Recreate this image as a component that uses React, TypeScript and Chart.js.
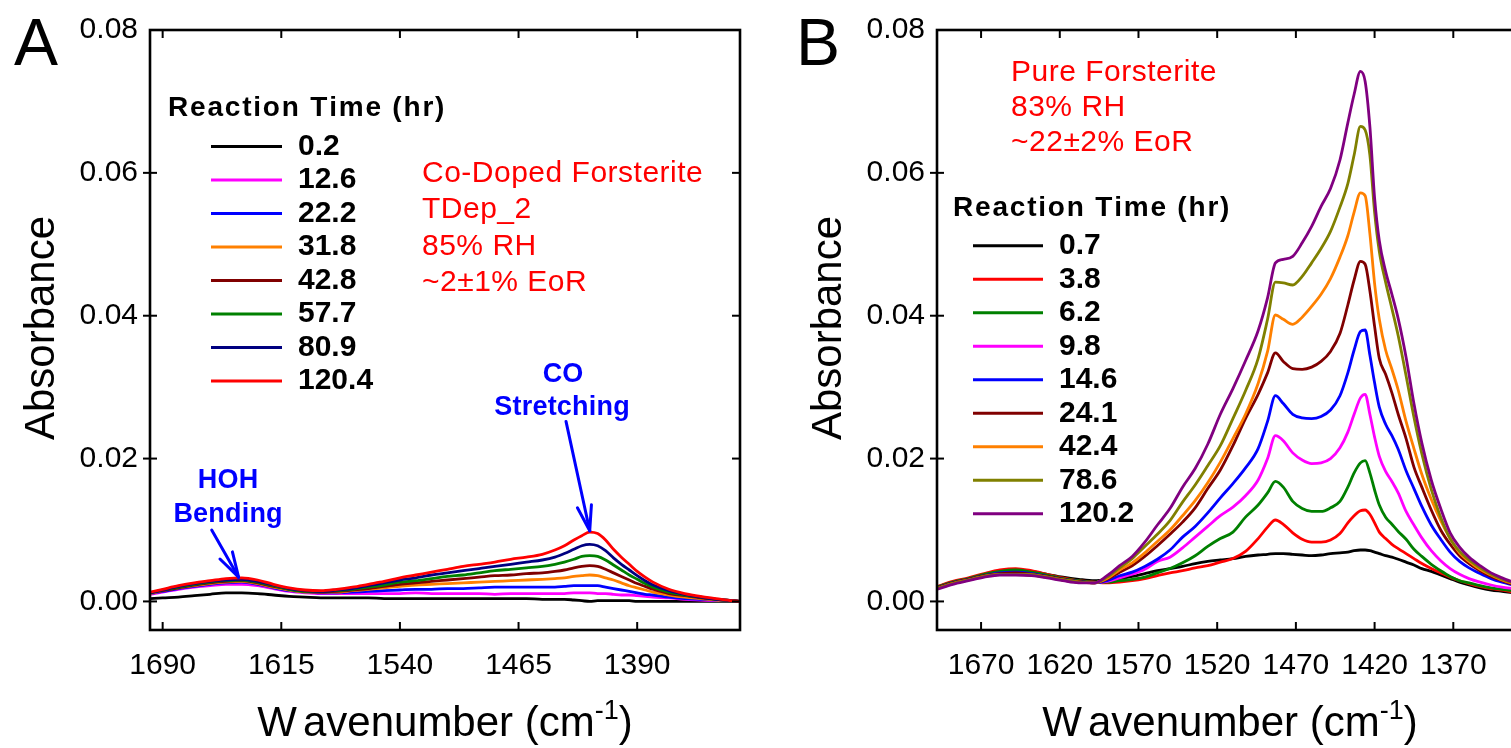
import React, { useEffect, useRef } from "react";
import { Chart, registerables } from "chart.js";

Chart.register(...registerables);

const FONT = "'Liberation Sans', Arial, Helvetica, sans-serif";

// ---------------- Panel A : Co-doped forsterite ----------------
const A_WAVENUMBERS = [
  1698, 1690, 1680, 1670, 1660, 1650, 1640, 1630, 1620, 1610,
  1600, 1590, 1580, 1570, 1560, 1550, 1540, 1530, 1520, 1510,
  1500, 1490, 1480, 1470, 1460, 1450, 1442, 1436, 1430, 1425,
  1420, 1415, 1410, 1405, 1400, 1395, 1390, 1385, 1380, 1370,
  1360, 1350, 1340, 1330, 1325,
];
const A_TIMES = ["0.2", "12.6", "22.2", "31.8", "42.8", "57.7", "80.9", "120.4"];
const A_COLORS = ["#000000", "#FF00FF", "#0000FF", "#FF8000", "#800000", "#008000", "#000080", "#FF0000"];

const A_T0_2 = [
  0.0004, 0.0005, 0.0006, 0.0008, 0.0010, 0.0012, 0.0012, 0.0011, 0.0009, 0.0007,
  0.0006, 0.0005, 0.0005, 0.0005, 0.0005, 0.0004, 0.0004, 0.0004, 0.0004, 0.0004,
  0.0004, 0.0004, 0.0004, 0.0004, 0.0004, 0.0003, 0.0003, 0.0003, 0.0002, 0.0001,
  0.0000, 0.0001, 0.0001, 0.0001, 0.0001, 0.0001, 0.0000, 0.0000, 0.0000, 0.0000,
  0.0000, 0.0000, 0.0000, 0.0000, 0.0000,
];
const A_T12_6 = [
  0.0010, 0.0013, 0.0017, 0.0020, 0.0022, 0.0024, 0.0024, 0.0022, 0.0018, 0.0014,
  0.0012, 0.0011, 0.0011, 0.0011, 0.0011, 0.0011, 0.0011, 0.0012, 0.0011, 0.0011,
  0.0011, 0.0011, 0.0010, 0.0011, 0.0011, 0.0011, 0.0011, 0.0011, 0.0012, 0.0012,
  0.0012, 0.0011, 0.0011, 0.0010, 0.0009, 0.0009, 0.0008, 0.0007, 0.0006, 0.0005,
  0.0003, 0.0002, 0.0001, 0.0001, 0.0000,
];
const A_T22_2 = [
  0.0011, 0.0014, 0.0018, 0.0021, 0.0024, 0.0026, 0.0027, 0.0024, 0.0019, 0.0015,
  0.0013, 0.0012, 0.0012, 0.0013, 0.0014, 0.0015, 0.0016, 0.0017, 0.0017, 0.0018,
  0.0018, 0.0019, 0.0020, 0.0020, 0.0020, 0.0020, 0.0020, 0.0021, 0.0022, 0.0022,
  0.0022, 0.0022, 0.0020, 0.0018, 0.0016, 0.0014, 0.0012, 0.0010, 0.0009, 0.0006,
  0.0004, 0.0003, 0.0002, 0.0001, 0.0000,
];
const A_T31_8 = [
  0.0011, 0.0015, 0.0019, 0.0022, 0.0025, 0.0027, 0.0028, 0.0025, 0.0020, 0.0016,
  0.0013, 0.0013, 0.0013, 0.0015, 0.0017, 0.0019, 0.0021, 0.0023, 0.0024, 0.0025,
  0.0026, 0.0027, 0.0028, 0.0029, 0.0030, 0.0031, 0.0032, 0.0033, 0.0035, 0.0036,
  0.0037, 0.0036, 0.0033, 0.0030, 0.0026, 0.0022, 0.0019, 0.0016, 0.0013, 0.0009,
  0.0006, 0.0004, 0.0002, 0.0001, 0.0000,
];
const A_T42_8 = [
  0.0012, 0.0015, 0.0019, 0.0023, 0.0026, 0.0028, 0.0029, 0.0026, 0.0021, 0.0017,
  0.0014, 0.0013, 0.0014, 0.0016, 0.0018, 0.0021, 0.0024, 0.0026, 0.0028, 0.0030,
  0.0032, 0.0034, 0.0036, 0.0037, 0.0039, 0.0040, 0.0042, 0.0044, 0.0047, 0.0049,
  0.0050, 0.0049, 0.0045, 0.0040, 0.0035, 0.0030, 0.0025, 0.0021, 0.0017, 0.0011,
  0.0008, 0.0005, 0.0003, 0.0001, 0.0000,
];
const A_T57_7 = [
  0.0012, 0.0016, 0.0020, 0.0024, 0.0027, 0.0029, 0.0030, 0.0027, 0.0022, 0.0017,
  0.0014, 0.0014, 0.0015, 0.0017, 0.0020, 0.0023, 0.0027, 0.0029, 0.0032, 0.0035,
  0.0037, 0.0040, 0.0043, 0.0045, 0.0047, 0.0049, 0.0052, 0.0055, 0.0059, 0.0063,
  0.0064, 0.0063, 0.0058, 0.0051, 0.0044, 0.0037, 0.0031, 0.0025, 0.0020, 0.0013,
  0.0009, 0.0006, 0.0003, 0.0001, 0.0000,
];
const A_T80_9 = [
  0.0012, 0.0016, 0.0021, 0.0025, 0.0028, 0.0030, 0.0031, 0.0028, 0.0023, 0.0018,
  0.0015, 0.0014, 0.0016, 0.0018, 0.0022, 0.0026, 0.0030, 0.0033, 0.0037, 0.0040,
  0.0043, 0.0046, 0.0049, 0.0052, 0.0055, 0.0058, 0.0062, 0.0067, 0.0073, 0.0078,
  0.0080, 0.0078, 0.0071, 0.0061, 0.0052, 0.0044, 0.0036, 0.0029, 0.0023, 0.0015,
  0.0010, 0.0006, 0.0003, 0.0001, 0.0000,
];
const A_T120_4 = [
  0.0013, 0.0017, 0.0022, 0.0026, 0.0029, 0.0032, 0.0033, 0.0030, 0.0024, 0.0019,
  0.0016, 0.0015, 0.0017, 0.0020, 0.0024, 0.0028, 0.0033, 0.0037, 0.0041, 0.0045,
  0.0049, 0.0052, 0.0055, 0.0059, 0.0062, 0.0066, 0.0072, 0.0078, 0.0086, 0.0092,
  0.0097, 0.0095, 0.0086, 0.0073, 0.0062, 0.0052, 0.0042, 0.0034, 0.0027, 0.0017,
  0.0011, 0.0007, 0.0004, 0.0001, 0.0000,
];
const A_SERIES = [A_T0_2, A_T12_6, A_T22_2, A_T31_8, A_T42_8, A_T57_7, A_T80_9, A_T120_4];
const A_X_TICKS = [1690, 1615, 1540, 1465, 1390];
const A_NOTES = ["Co-Doped Forsterite", "TDep_2", "85% RH", "~2±1% EoR"];

// ---------------- Panel B : pure forsterite ----------------
const B_WAVENUMBERS = [
  1698, 1688, 1678, 1668, 1658, 1648, 1638, 1628, 1618, 1608,
  1598, 1590, 1582, 1574, 1566, 1558, 1550, 1542, 1534, 1526,
  1518, 1510, 1502, 1494, 1488, 1483, 1478, 1472, 1466, 1460,
  1454, 1448, 1442, 1437, 1433, 1429, 1426, 1423, 1420, 1417,
  1413, 1409, 1405, 1400, 1395, 1390, 1384, 1378, 1372, 1366,
  1360, 1353, 1346, 1339, 1332, 1325, 1318,
];
const B_TIMES = ["0.7", "3.8", "6.2", "9.8", "14.6", "24.1", "42.4", "78.6", "120.2"];
const B_COLORS = ["#000000", "#FF0000", "#008000", "#FF00FF", "#0000FF", "#800000", "#FF8000", "#808000", "#800080"];

const B_T0_7 = [
  0.0020, 0.0027, 0.0032, 0.0038, 0.0043, 0.0044, 0.0042, 0.0038, 0.0034, 0.0031,
  0.0029, 0.0030, 0.0032, 0.0035, 0.0039, 0.0043, 0.0046, 0.0049, 0.0053, 0.0056,
  0.0058, 0.0060, 0.0063, 0.0065, 0.0066, 0.0067, 0.0067, 0.0066, 0.0065, 0.0064,
  0.0065, 0.0067, 0.0068, 0.0069, 0.0071, 0.0072, 0.0072, 0.0071, 0.0069, 0.0067,
  0.0064, 0.0062, 0.0059, 0.0055, 0.0051, 0.0046, 0.0042, 0.0037, 0.0032, 0.0027,
  0.0023, 0.0019, 0.0016, 0.0014, 0.0012, 0.0011, 0.0010,
];
const B_T3_8 = [
  0.0021, 0.0028, 0.0033, 0.0039, 0.0044, 0.0046, 0.0043, 0.0038, 0.0033, 0.0029,
  0.0027, 0.0026, 0.0027, 0.0029, 0.0032, 0.0036, 0.0040, 0.0043, 0.0047, 0.0050,
  0.0055, 0.0060, 0.0070, 0.0088, 0.0104, 0.0114, 0.0108, 0.0096, 0.0087, 0.0083,
  0.0083, 0.0086, 0.0095, 0.0110, 0.0120, 0.0127, 0.0128, 0.0122, 0.0110, 0.0097,
  0.0088, 0.0080, 0.0074, 0.0067, 0.0060, 0.0053, 0.0046, 0.0040, 0.0034, 0.0029,
  0.0025, 0.0021, 0.0018, 0.0016, 0.0013, 0.0012, 0.0011,
];
const B_T6_2 = [
  0.0020, 0.0027, 0.0032, 0.0038, 0.0042, 0.0044, 0.0041, 0.0037, 0.0032, 0.0029,
  0.0027, 0.0027, 0.0029, 0.0031, 0.0034, 0.0040, 0.0046, 0.0054, 0.0064, 0.0077,
  0.0088, 0.0097, 0.0118, 0.0135, 0.0152, 0.0168, 0.0160, 0.0140, 0.0130, 0.0126,
  0.0126, 0.0131, 0.0140, 0.0160, 0.0180, 0.0194, 0.0197, 0.0180, 0.0156, 0.0135,
  0.0118, 0.0108, 0.0098, 0.0087, 0.0073, 0.0063, 0.0052, 0.0043, 0.0035, 0.0029,
  0.0026, 0.0022, 0.0019, 0.0017, 0.0015, 0.0014, 0.0013,
];
const B_T9_8 = [
  0.0018, 0.0025, 0.0030, 0.0035, 0.0039, 0.0040, 0.0038, 0.0034, 0.0030, 0.0027,
  0.0026, 0.0028, 0.0033, 0.0038, 0.0045, 0.0056, 0.0062, 0.0075, 0.0090, 0.0105,
  0.0120, 0.0132, 0.0148, 0.0170, 0.0200, 0.0232, 0.0225, 0.0208, 0.0198, 0.0193,
  0.0194, 0.0200, 0.0215, 0.0237, 0.0262, 0.0285, 0.0290, 0.0262, 0.0230, 0.0203,
  0.0182, 0.0168, 0.0152, 0.0126, 0.0107, 0.0089, 0.0071, 0.0057, 0.0046, 0.0038,
  0.0032, 0.0027, 0.0023, 0.0020, 0.0018, 0.0016, 0.0014,
];
const B_T14_6 = [
  0.0019, 0.0026, 0.0031, 0.0036, 0.0040, 0.0041, 0.0039, 0.0035, 0.0031, 0.0028,
  0.0026, 0.0029, 0.0036, 0.0041, 0.0049, 0.0059, 0.0072, 0.0090, 0.0105, 0.0124,
  0.0145, 0.0165, 0.0187, 0.0214, 0.0252, 0.0288, 0.0277, 0.0262, 0.0257, 0.0256,
  0.0259, 0.0268, 0.0288, 0.0320, 0.0352, 0.0378, 0.0380, 0.0345, 0.0306, 0.0272,
  0.0248, 0.0232, 0.0213, 0.0183, 0.0158, 0.0133, 0.0107, 0.0087, 0.0069, 0.0056,
  0.0047, 0.0039, 0.0032, 0.0027, 0.0023, 0.0019, 0.0016,
];
const B_T24_1 = [
  0.0019, 0.0026, 0.0031, 0.0036, 0.0039, 0.0040, 0.0038, 0.0035, 0.0031, 0.0028,
  0.0026, 0.0031, 0.0041, 0.0050, 0.0063, 0.0078, 0.0094, 0.0111, 0.0131, 0.0158,
  0.0184, 0.0218, 0.0256, 0.0290, 0.0320, 0.0348, 0.0336, 0.0326, 0.0325, 0.0328,
  0.0336, 0.0350, 0.0375, 0.0415, 0.0450, 0.0476, 0.0472, 0.0435, 0.0385, 0.0340,
  0.0318, 0.0292, 0.0262, 0.0228, 0.0188, 0.0160, 0.0128, 0.0100, 0.0080, 0.0064,
  0.0053, 0.0043, 0.0035, 0.0029, 0.0024, 0.0020, 0.0017,
];
const B_T42_4 = [
  0.0018, 0.0025, 0.0030, 0.0035, 0.0038, 0.0038, 0.0037, 0.0034, 0.0030, 0.0027,
  0.0026, 0.0032, 0.0044, 0.0054, 0.0068, 0.0084, 0.0100, 0.0120, 0.0141, 0.0166,
  0.0195, 0.0228, 0.0262, 0.0305, 0.0350, 0.0401, 0.0395, 0.0388, 0.0398, 0.0413,
  0.0430, 0.0452, 0.0482, 0.0512, 0.0545, 0.0572, 0.0568, 0.0515, 0.0445, 0.0395,
  0.0352, 0.0325, 0.0296, 0.0252, 0.0214, 0.0178, 0.0143, 0.0113, 0.0088, 0.0068,
  0.0056, 0.0045, 0.0037, 0.0030, 0.0025, 0.0021, 0.0018,
];
const B_T78_6 = [
  0.0018, 0.0025, 0.0030, 0.0035, 0.0038, 0.0038, 0.0037, 0.0034, 0.0030, 0.0027,
  0.0026, 0.0034, 0.0047, 0.0060, 0.0077, 0.0094, 0.0113, 0.0139, 0.0163, 0.0190,
  0.0218, 0.0256, 0.0295, 0.0340, 0.0395, 0.0447, 0.0446, 0.0443, 0.0455, 0.0474,
  0.0494, 0.0518, 0.0552, 0.0585, 0.0625, 0.0665, 0.0660, 0.0625, 0.0545, 0.0490,
  0.0447, 0.0410, 0.0372, 0.0316, 0.0258, 0.0207, 0.0157, 0.0118, 0.0088, 0.0070,
  0.0058, 0.0047, 0.0038, 0.0031, 0.0026, 0.0022, 0.0019,
];
const B_T120_2 = [
  0.0017, 0.0024, 0.0029, 0.0034, 0.0037, 0.0037, 0.0036, 0.0033, 0.0029, 0.0026,
  0.0026, 0.0036, 0.0050, 0.0063, 0.0083, 0.0107, 0.0130, 0.0160, 0.0186, 0.0220,
  0.0262, 0.0298, 0.0337, 0.0379, 0.0425, 0.0474, 0.0479, 0.0483, 0.0502, 0.0525,
  0.0553, 0.0578, 0.0618, 0.0670, 0.0710, 0.0742, 0.0728, 0.0665, 0.0565, 0.0505,
  0.0462, 0.0430, 0.0396, 0.0342, 0.0277, 0.0222, 0.0170, 0.0130, 0.0096, 0.0076,
  0.0062, 0.0050, 0.0040, 0.0033, 0.0027, 0.0023, 0.0020,
];
const B_SERIES = [B_T0_7, B_T3_8, B_T6_2, B_T9_8, B_T14_6, B_T24_1, B_T42_4, B_T78_6, B_T120_2];
const B_X_TICKS = [1670, 1620, 1570, 1520, 1470, 1420, 1370];
const B_NOTES = ["Pure Forsterite", "83% RH", "~22±2% EoR"];

const Y_TICKS = [0, 0.02, 0.04, 0.06, 0.08];
const LEGEND_TITLE = "Reaction Time (hr)";

type Arrow = { from: [number, number]; to: [number, number] };
type Label = { text: string; x: number; y: number };

interface PanelSpec {
  canvasWidth: number;
  padLeft: number;
  padRight: number;
  xMin: number;
  xMax: number;
  wavenumbers: number[];
  series: number[][];
  times: string[];
  colors: string[];
  xTicks: number[];
  letter: string;
  letterX: number;
  notes: string[];
  notesX: number;
  notesY0: number;
  notesStep: number;
  legendTitleX: number;
  legendTitleY: number;
  legendY0: number;
  legendStep: number;
  legendLineX0: number;
  legendLineX1: number;
  legendTextX: number;
  yTitleX: number;
  xTitleCenter: number;
  blueLabels: Label[];
  arrows: Arrow[];
}

function spacedWidth(ctx: CanvasRenderingContext2D, text: string, spacing: number) {
  let w = 0;
  const chars = Array.from(text);
  chars.forEach((ch, i) => {
    w += ctx.measureText(ch).width + (i < chars.length - 1 ? spacing : 0);
  });
  return w;
}

function spacedText(
  ctx: CanvasRenderingContext2D,
  text: string,
  x: number,
  y: number,
  spacing: number,
  align: "left" | "center" = "left"
) {
  let cx = align === "center" ? x - spacedWidth(ctx, text, spacing) / 2 : x;
  ctx.textAlign = "left";
  for (const ch of Array.from(text)) {
    ctx.fillText(ch, cx, y);
    cx += ctx.measureText(ch).width + spacing;
  }
}

function decorPlugin(p: PanelSpec) {
  return {
    id: "decor" + p.letter,
    afterDraw(chart: any) {
      const ctx: CanvasRenderingContext2D = chart.ctx;
      const a = chart.chartArea;
      const xs = chart.scales.x;
      const ys = chart.scales.y;
      ctx.save();
      (ctx as any).fontKerning = "none";

      // tick marks
      ctx.strokeStyle = "#000";
      ctx.lineWidth = 2;
      const seg = (x1: number, y1: number, x2: number, y2: number) => {
        ctx.beginPath();
        ctx.moveTo(x1, y1);
        ctx.lineTo(x2, y2);
        ctx.stroke();
      };
      for (const t of p.xTicks) {
        const px = xs.getPixelForValue(t);
        seg(px, a.bottom, px, a.bottom - 8);
        seg(px, a.top, px, a.top + 8);
      }
      for (const t of Y_TICKS) {
        const py = ys.getPixelForValue(t);
        if (Math.abs(py - a.top) < 2) continue;
        seg(a.left - 7, py, a.left + 7, py);
        seg(a.right, py, a.right - 8, py);
      }

      // frame
      ctx.lineWidth = 2.6;
      ctx.strokeRect(a.left, a.top, a.right - a.left, a.bottom - a.top);

      // panel letter
      ctx.fillStyle = "#000";
      ctx.textBaseline = "alphabetic";
      ctx.textAlign = "left";
      ctx.font = `66px ${FONT}`;
      ctx.fillText(p.letter, p.letterX, 65);

      // y title
      ctx.save();
      ctx.translate(p.yTitleX, 328);
      ctx.rotate(-Math.PI / 2);
      ctx.font = `42px ${FONT}`;
      ctx.textAlign = "center";
      ctx.fillText("Absorbance", 0, 0);
      ctx.restore();

      // x title with superscript ("W avenumber" as in the original typesetting)
      const mainFont = `42px ${FONT}`;
      const supFont = `27px ${FONT}`;
      const gapW = 6;
      ctx.font = mainFont;
      const wW = ctx.measureText("W").width;
      const w1 = ctx.measureText("avenumber (cm").width;
      const w3 = ctx.measureText(")").width;
      ctx.font = supFont;
      const w2 = ctx.measureText("-1").width;
      let xx = p.xTitleCenter - (wW + gapW + w1 + w2 + w3) / 2;
      const base = 736;
      ctx.font = mainFont;
      ctx.fillText("W", xx, base);
      xx += wW + gapW;
      ctx.fillText("avenumber (cm", xx, base);
      xx += w1;
      ctx.font = supFont;
      ctx.fillText("-1", xx, base - 17);
      xx += w2;
      ctx.font = mainFont;
      ctx.fillText(")", xx, base);

      // red notes
      ctx.fillStyle = "#FF0000";
      ctx.textBaseline = "middle";
      ctx.font = `30px ${FONT}`;
      p.notes.forEach((n, i) => spacedText(ctx, n, p.notesX, p.notesY0 + i * p.notesStep, 0.5));

      // legend
      ctx.fillStyle = "#000";
      ctx.font = `bold 28px ${FONT}`;
      spacedText(ctx, LEGEND_TITLE, p.legendTitleX, p.legendTitleY, 1.8);
      ctx.font = `bold 30px ${FONT}`;
      chart.data.datasets.forEach((ds: any, i: number) => {
        const y = p.legendY0 + i * p.legendStep;
        ctx.strokeStyle = ds.borderColor;
        ctx.lineWidth = 3;
        seg(p.legendLineX0, y, p.legendLineX1, y);
        ctx.fillStyle = "#000";
        spacedText(ctx, ds.label, p.legendTextX, y, 0);
      });

      // blue annotations
      ctx.fillStyle = "#0000FF";
      ctx.strokeStyle = "#0000FF";
      ctx.font = `bold 27px ${FONT}`;
      p.blueLabels.forEach((l) => spacedText(ctx, l.text, l.x, l.y, 0.2, "center"));
      ctx.lineWidth = 3;
      ctx.lineCap = "round";
      ctx.lineJoin = "round";
      p.arrows.forEach((ar) => {
        const x1 = xs.getPixelForValue(ar.from[0]);
        const y1 = ys.getPixelForValue(ar.from[1]);
        const x2 = xs.getPixelForValue(ar.to[0]);
        const y2 = ys.getPixelForValue(ar.to[1]);
        seg(x1, y1, x2, y2);
        const ang = Math.atan2(y1 - y2, x1 - x2);
        const L = 26;
        const da = (16 * Math.PI) / 180;
        seg(x2, y2, x2 + L * Math.cos(ang + da), y2 + L * Math.sin(ang + da));
        seg(x2, y2, x2 + L * Math.cos(ang - da), y2 + L * Math.sin(ang - da));
      });

      ctx.restore();
    },
  };
}

function buildConfig(p: PanelSpec): any {
  const n = p.series.length;
  return {
    type: "line",
    data: {
      datasets: p.series.map((ys, i) => ({
        label: p.times[i],
        data: p.wavenumbers.map((x, j) => ({ x, y: ys[j] })),
        borderColor: p.colors[i],
        backgroundColor: p.colors[i],
        borderWidth: 2.8,
        pointRadius: 0,
        cubicInterpolationMode: "monotone",
        fill: false,
        order: n - 1 - i,
      })),
    },
    options: {
      responsive: false,
      animation: false,
      devicePixelRatio: 1,
      events: [],
      layout: { padding: { left: p.padLeft, right: p.padRight, top: 25, bottom: 58 } },
      plugins: {
        legend: { display: false },
        tooltip: { enabled: false },
        title: { display: false },
      },
      scales: {
        x: {
          type: "linear",
          reverse: true,
          min: p.xMin,
          max: p.xMax,
          afterBuildTicks: (s: any) => {
            s.ticks = p.xTicks.map((v) => ({ value: v }));
          },
          afterFit: (s: any) => {
            s.height = 60;
          },
          grid: { display: false, drawTicks: false },
          border: { display: false },
          ticks: {
            padding: 18,
            autoSkip: false,
            maxRotation: 0,
            minRotation: 0,
            color: "#000",
            font: { family: FONT, size: 30 },
            callback: (v: any) => String(v),
          },
        },
        y: {
          type: "linear",
          min: -0.004,
          max: 0.08,
          afterBuildTicks: (s: any) => {
            s.ticks = Y_TICKS.map((v) => ({ value: v }));
          },
          afterFit: (s: any) => {
            s.width = 80;
          },
          grid: { display: false, drawTicks: false },
          border: { display: false },
          ticks: {
            padding: 12,
            color: "#000",
            font: { family: FONT, size: 30 },
            callback: (v: any) => Number(v).toFixed(2),
          },
        },
      },
    },
    plugins: [decorPlugin(p)],
  };
}

const PANEL_A: PanelSpec = {
  canvasWidth: 760,
  padLeft: 70,
  padRight: 20,
  xMin: 1325,
  xMax: 1698,
  wavenumbers: A_WAVENUMBERS,
  series: A_SERIES,
  times: A_TIMES,
  colors: A_COLORS,
  xTicks: A_X_TICKS,
  letter: "A",
  letterX: 14,
  notes: A_NOTES,
  notesX: 422,
  notesY0: 173.5,
  notesStep: 36.4,
  legendTitleX: 168,
  legendTitleY: 108.5,
  legendY0: 146.5,
  legendStep: 33.5,
  legendLineX0: 211,
  legendLineX1: 282,
  legendTextX: 298,
  yTitleX: 54,
  xTitleCenter: 445,
  blueLabels: [
    { text: "HOH", x: 228, y: 481 },
    { text: "Bending", x: 228, y: 514.5 },
    { text: "CO", x: 563, y: 374.5 },
    { text: "Stretching", x: 562, y: 408 },
  ],
  arrows: [
    { from: [1659, 0.01], to: [1642, 0.0034] },
    { from: [1435, 0.0252], to: [1420, 0.0099] },
  ],
};

const B_OFFSET = 760;
const PANEL_B: PanelSpec = {
  canvasWidth: 800,
  padLeft: 97,
  padRight: 28,
  xMin: 1320,
  xMax: 1698,
  wavenumbers: B_WAVENUMBERS,
  series: B_SERIES,
  times: B_TIMES,
  colors: B_COLORS,
  xTicks: B_X_TICKS,
  letter: "B",
  letterX: 796 - B_OFFSET,
  notes: B_NOTES,
  notesX: 1011 - B_OFFSET,
  notesY0: 72.5,
  notesStep: 35.3,
  legendTitleX: 953 - B_OFFSET,
  legendTitleY: 208.5,
  legendY0: 245.8,
  legendStep: 33.5,
  legendLineX0: 973 - B_OFFSET,
  legendLineX1: 1043 - B_OFFSET,
  legendTextX: 1059 - B_OFFSET,
  yTitleX: 841 - B_OFFSET,
  xTitleCenter: 1230 - B_OFFSET,
  blueLabels: [],
  arrows: [],
};

function Panel({ spec, left }: { spec: PanelSpec; left: number }) {
  const ref = useRef<HTMLCanvasElement>(null);
  useEffect(() => {
    if (!ref.current) return;
    const chart = new Chart(ref.current, buildConfig(spec));
    return () => chart.destroy();
  }, [spec]);
  return (
    <canvas
      ref={ref}
      width={spec.canvasWidth}
      height={748}
      style={{ position: "absolute", left, top: 0, width: spec.canvasWidth, height: 748 }}
    />
  );
}

export default function App() {
  return (
    <div
      style={{
        position: "fixed",
        left: 0,
        top: 0,
        width: 1511,
        height: 748,
        overflow: "hidden",
        background: "#ffffff",
      }}
    >
      <Panel spec={PANEL_A} left={0} />
      <Panel spec={PANEL_B} left={B_OFFSET} />
    </div>
  );
}
